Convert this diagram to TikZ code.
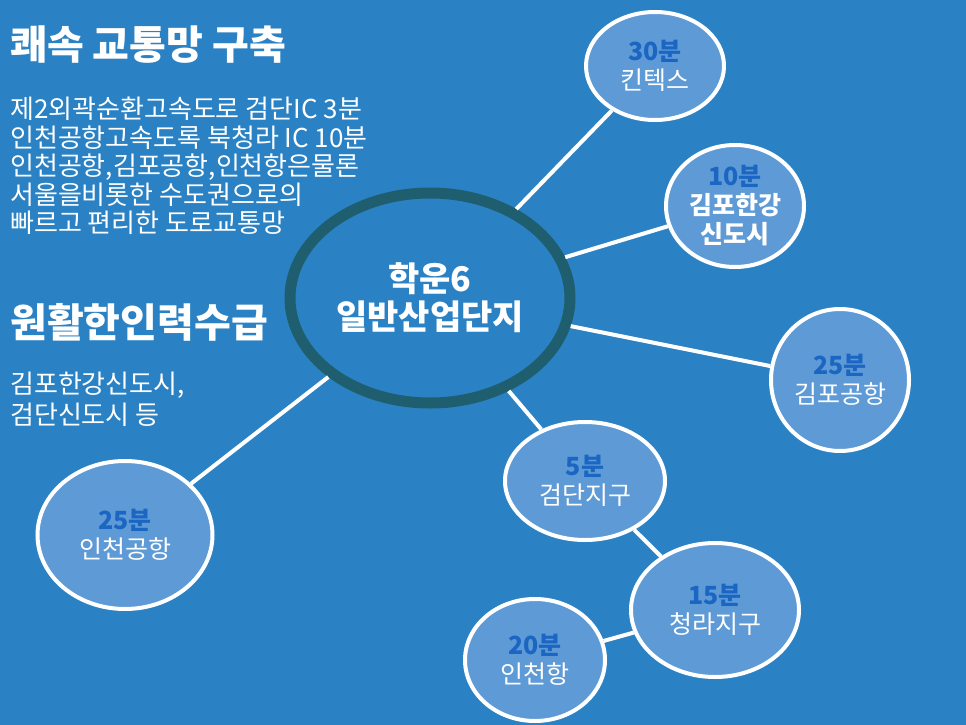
\documentclass[tikz,border=0pt]{standalone}
\usepackage{fontspec}
\usetikzlibrary{shapes.geometric}
\setmainfont{Noto Sans CJK KR}
\definecolor{bg}{HTML}{2A82C4}
\definecolor{bubble}{HTML}{5E9AD6}
\definecolor{ring}{HTML}{1F5E6E}
\definecolor{mins}{HTML}{1A66C2}
\begin{document}
\begin{tikzpicture}[x=1pt,y=-1pt,
  bubble/.style={draw=white,line width=4pt,fill=bubble,ellipse,inner sep=0pt,align=center,text=white,font=\fontsize{25}{29}\selectfont},
  link/.style={draw=white,line width=4pt},
  txt/.style={anchor=west,text=white,align=left,inner sep=0pt}]
\fill[bg] (0,0) rectangle (966,725);
\useasboundingbox (0,0) rectangle (966,725);
\def\mn#1{{\color{mins}\bfseries #1}}
% circles
\node[draw=ring,line width=11pt,fill=bg,ellipse,minimum width=280,minimum height=210,align=center,text=white,font=\fontsize{34}{38}\selectfont\bfseries] (hub) at (430,298) {학운6\\일반산업단지};
\node[bubble,minimum width=138,minimum height=108] (kintex) at (655,66) {\mn{30분}\\킨텍스};
\node[bubble,minimum width=138,minimum height=122] (hangang) at (735,206) {\mn{10분}\\\textbf{김포한강}\\\textbf{신도시}};
\node[bubble,minimum width=138,minimum height=142] (gimpo) at (840,380) {\mn{25분}\\김포공항};
\node[bubble,minimum width=160,minimum height=118] (geomdan) at (585,481) {\mn{5분}\\검단지구};
\node[bubble,minimum width=168,minimum height=134] (cheongna) at (715,610) {\mn{15분}\\청라지구};
\node[bubble,minimum width=140,minimum height=122] (port) at (535,660) {\mn{20분}\\인천항};
\node[bubble,minimum width=175,minimum height=148] (airport) at (125,535) {\mn{25분}\\인천공항};
% links
\draw[link] (hub) -- (kintex);
\draw[link] (hub) -- (hangang);
\draw[link] (hub) -- (gimpo);
\draw[link] (hub) -- (geomdan);
\draw[link] (geomdan) -- (cheongna);
\draw[link] (cheongna) -- (port);
\draw[link] (hub) -- (airport);
% texts
\node[txt,font=\fontsize{40}{44}\selectfont\bfseries] (t1) at (10,45) {쾌속 교통망 구축};
\node[txt,font=\fontsize{26}{28.5}\selectfont,anchor=north west] (b1) at (10,97) {제2외곽순환고속도로 검단IC 3분\\인천공항고속도록 북청라 IC 10분\\인천공항,김포공항,인천항은물론\\서울을비롯한 수도권으로의\\빠르고 편리한 도로교통망};
\node[txt,font=\fontsize{40}{44}\selectfont\bfseries] (t2) at (10,322) {원활한인력수급};
\node[txt,font=\fontsize{26}{31}\selectfont,anchor=north west] (b2) at (10,372) {김포한강신도시,\\검단신도시 등};
\end{tikzpicture}
\end{document}
